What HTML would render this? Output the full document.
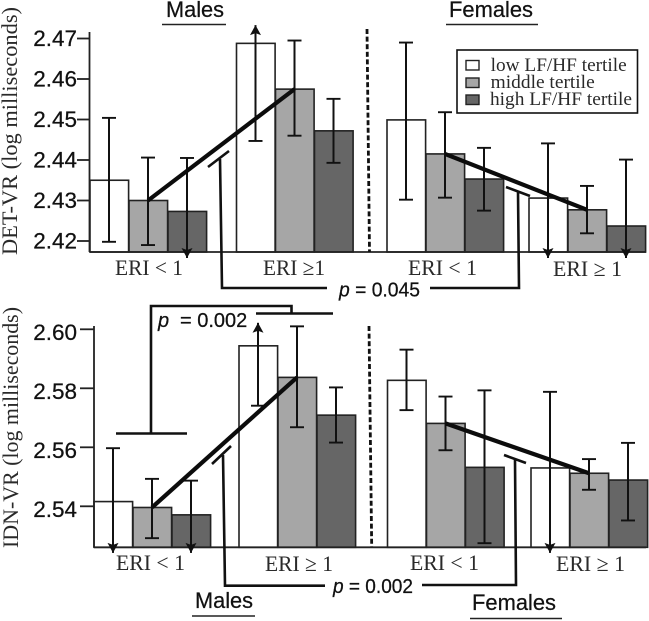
<!DOCTYPE html>
<html lang="en">
<head>
<meta charset="utf-8">
<title>DET-VR and IDN-VR by ERI and LF/HF tertile</title>
<style>
html,body{margin:0;padding:0;background:#fff;width:649px;height:621px;overflow:hidden}
svg{display:block}
.sans{font-family:"Liberation Sans",sans-serif;fill:#111;stroke:#111;stroke-width:0.25}
.serif{font-family:"Liberation Serif",serif;fill:#2a2a2a}
</style>
</head>
<body>
<svg id="chart" xmlns="http://www.w3.org/2000/svg" width="649" height="621" viewBox="0 0 649 621">
  <rect x="0" y="0" width="649" height="621" fill="#fff"/>
  <g id="top-panel"></g>
  <g id="bottom-panel"></g>

  <text class="sans" x="166" y="17" font-size="22" textLength="58" lengthAdjust="spacingAndGlyphs">Males</text>
  <line x1="162" y1="24.5" x2="226" y2="24.5" stroke="#222" stroke-width="1.6"/>
  <text class="sans" x="449" y="17" font-size="22" textLength="84" lengthAdjust="spacingAndGlyphs">Females</text>
  <line x1="446" y1="24.5" x2="538" y2="24.5" stroke="#222" stroke-width="1.6"/>

  <text class="serif" font-size="22" transform="translate(17,255) rotate(-90)" textLength="248" lengthAdjust="spacingAndGlyphs">DET-VR (log milliseconds)</text>
  <text class="serif" font-size="22" transform="translate(18,548) rotate(-90)" textLength="241" lengthAdjust="spacingAndGlyphs">IDN-VR (log milliseconds)</text>

  <line x1="367" y1="29" x2="369.5" y2="252" stroke="#111" stroke-width="2.8" stroke-dasharray="5 2.6"/>
  <line x1="369" y1="326" x2="371.7" y2="547" stroke="#111" stroke-width="2.8" stroke-dasharray="5 2.6"/>

  <g>
    <text class="serif" font-size="22" x="115" y="275" textLength="68" lengthAdjust="spacingAndGlyphs">ERI &lt; 1</text>
    <text class="serif" font-size="22" x="263" y="275" textLength="62" lengthAdjust="spacingAndGlyphs">ERI ≥1</text>
    <text class="serif" font-size="22" x="408" y="275" textLength="69" lengthAdjust="spacingAndGlyphs">ERI &lt; 1</text>
    <text class="serif" font-size="22" x="553" y="276" textLength="69" lengthAdjust="spacingAndGlyphs">ERI ≥ 1</text>
  </g>
  <g>
    <text class="serif" font-size="22" x="116" y="570" textLength="69" lengthAdjust="spacingAndGlyphs">ERI &lt; 1</text>
    <text class="serif" font-size="22" x="265" y="571" textLength="68" lengthAdjust="spacingAndGlyphs">ERI ≥ 1</text>
    <text class="serif" font-size="22" x="410" y="570" textLength="69" lengthAdjust="spacingAndGlyphs">ERI &lt; 1</text>
    <text class="serif" font-size="22" x="556" y="571" textLength="69" lengthAdjust="spacingAndGlyphs">ERI ≥ 1</text>
  </g>

  <!-- top bracket -->
  <path d="M208 167 L229 151 M220 159 L222 288 L327 288" fill="none" stroke="#111" stroke-width="2.6"/>
  <path d="M430 288 L519 288 L518 192 M506 187 L530 196" fill="none" stroke="#111" stroke-width="2.6"/>
  <text class="sans" x="339" y="296.5" font-size="20" textLength="81" lengthAdjust="spacingAndGlyphs"><tspan font-style="italic">p</tspan> = 0.045</text>

  <!-- bottom brackets -->
  <path d="M116 433.5 L187 433.5 M151 433.5 L151 306 L291.5 306 L291.5 313.5 M256 313.5 L333 313.5" fill="none" stroke="#111" stroke-width="2.6"/>
  <text class="sans" font-size="20" y="327"><tspan x="158" font-style="italic">p</tspan><tspan x="180">= 0.002</tspan></text>
  <path d="M212 464 L231 446 M223 455 L225 585.7 L325 585.7" fill="none" stroke="#111" stroke-width="2.6"/>
  <path d="M422 585 L516 585 L515 460 M504 455 L526 463" fill="none" stroke="#111" stroke-width="2.6"/>
  <text class="sans" x="333" y="593" font-size="20" textLength="80" lengthAdjust="spacingAndGlyphs"><tspan font-style="italic">p</tspan> = 0.002</text>

  <text class="sans" x="195" y="608" font-size="22" textLength="58" lengthAdjust="spacingAndGlyphs">Males</text>
  <line x1="192" y1="616" x2="255" y2="616" stroke="#222" stroke-width="1.6"/>
  <text class="sans" x="472" y="610" font-size="22" textLength="84" lengthAdjust="spacingAndGlyphs">Females</text>
  <line x1="470" y1="618.5" x2="562" y2="618.5" stroke="#222" stroke-width="1.6"/>

  <!-- legend -->
  <g>
    <rect x="457" y="50" width="180.5" height="63" fill="#fff" stroke="#111" stroke-width="1.6"/>
    <g>
      <rect x="466" y="60.5" width="13" height="9.5" fill="#fff" stroke="#222" stroke-width="1.4"/>
      <text class="serif" x="490.7" y="71" font-size="19" textLength="136" lengthAdjust="spacingAndGlyphs">low LF/HF tertile</text>
    </g>
    <g>
      <rect x="466" y="78" width="13" height="9.5" fill="#a6a6a6" stroke="#222" stroke-width="1.4"/>
      <text class="serif" x="490.7" y="88" font-size="19" textLength="104" lengthAdjust="spacingAndGlyphs">middle tertile</text>
    </g>
    <g>
      <rect x="466" y="95" width="13" height="9.5" fill="#666" stroke="#222" stroke-width="1.4"/>
      <text class="serif" x="490" y="105" font-size="19" textLength="142" lengthAdjust="spacingAndGlyphs">high LF/HF tertile</text>
    </g>
  </g>
</svg>

<script>
// Groups: Males ERI<1, Males ERI>=1, Females ERI<1, Females ERI>=1. Series: low, middle, high tertile.
const groups = ['males-eri-below-1', 'males-eri-at-least-1', 'females-eri-below-1', 'females-eri-at-least-1'];
const tertiles = ['low', 'middle', 'high'];

const topTicks = ['2.42', '2.43', '2.44', '2.45', '2.46', '2.47'];
const topMeans = [[2.4350, 2.4300, 2.4273], [2.4688, 2.4575, 2.4472], [2.4499, 2.4415, 2.4353], [2.4306, 2.4277, 2.4237]];
const topHighs = [[2.4504, 2.4406, 2.4405], [2.4733, 2.4695, 2.4551], [2.4690, 2.4518, 2.4430], [2.4441, 2.4336, 2.4401]];
const topLows = [[2.4198, 2.4190, 2.4158], [2.4447, 2.4460, 2.4393], [2.4302, 2.4307, 2.4275], [2.4158, 2.4219, 2.4158]];
const topArrows = [['', '', 'down'], ['up', '', ''], ['', '', ''], ['down', '', 'down']];

const bottomTicks = ['2.54', '2.56', '2.58', '2.60'];
const bottomMeans = [[2.5416, 2.5396, 2.5371], [2.5944, 2.5837, 2.5709], [2.5827, 2.5681, 2.5532], [2.5530, 2.5512, 2.5489]];
const bottomHighs = [[2.5597, 2.5493, 2.5487], [2.6022, 2.6010, 2.5803], [2.5931, 2.5772, 2.5793], [2.5788, 2.5560, 2.5615]];
const bottomLows = [[2.5242, 2.5292, 2.5242], [2.5741, 2.5668, 2.5616], [2.5726, 2.5590, 2.5275], [2.5242, 2.5456, 2.5352]];
const bottomArrows = [['down', '', 'down'], ['up', '', ''], ['', '', ''], ['down', '', '']];

const SVGNS = 'http://www.w3.org/2000/svg';
const fills = { low: '#ffffff', middle: '#a6a6a6', high: '#666666' };

function make(parent, tag, attrs) {
  const el = document.createElementNS(SVGNS, tag);
  for (const k in attrs) el.setAttribute(k, attrs[k]);
  parent.appendChild(el);
  return el;
}

function drawPanel(parent, cfg) {
  const y = v => cfg.refY - (v - cfg.refValue) * cfg.pxPerUnit;
  const x = (g, s) => cfg.groupLeft(g) + s * cfg.barStep;

  // bars
  cfg.means.forEach((row, g) => row.forEach((v, s) => {
    const bar = make(parent, 'rect', {
      x: x(g, s), y: y(v), width: cfg.barStep - 0.4, height: cfg.baseY - y(v),
      fill: fills[tertiles[s]], stroke: '#222', 'stroke-width': 1.6
    });
    
    
  }));

  // axes
  const baseline = make(parent, 'line', { x1: cfg.axisX, y1: cfg.baseY, x2: 646, y2: cfg.baseY, stroke: '#222', 'stroke-width': 1.8 });
  
  
  const yAxis = make(parent, 'line', { x1: cfg.axisX, y1: cfg.axisTop, x2: cfg.axisX, y2: cfg.baseY, stroke: '#222', 'stroke-width': 1.8 });
  
  

  cfg.ticks.forEach(label => {
    const ty = y(parseFloat(label));
    const tick = make(parent, 'line', { x1: cfg.tickLeft, y1: ty, x2: cfg.axisX, y2: ty, stroke: '#222', 'stroke-width': 1.8 });
    
    
    const text = make(parent, 'text', { x: 77, y: ty + cfg.labelDy, 'text-anchor': 'end', 'font-size': 22.5, class: 'sans' });
    
    
    text.textContent = label;
  });

  // error bars
  cfg.means.forEach((row, g) => row.forEach((v, s) => {
    const cx = x(g, s) + cfg.barStep / 2 - 0.5;
    const hi = y(cfg.highs[g][s]);
    const lo = y(cfg.lows[g][s]);
    const arrow = cfg.arrows[g][s];
    const stem = make(parent, 'line', { x1: cx, y1: hi, x2: cx, y2: lo, stroke: '#111', 'stroke-width': 2 });
    
    
    if (arrow !== 'up') {
      const capTop = make(parent, 'line', { x1: cx - 7, y1: hi, x2: cx + 7, y2: hi, stroke: '#111', 'stroke-width': 1.9 });
      
      
    } else {
      const head = make(parent, 'polygon', { points: [cx, hi, cx - 5.5, hi + 10, cx, hi + 8, cx + 5.5, hi + 10].join(' '), fill: '#111' });
      
      
    }
    if (arrow !== 'down') {
      const capBottom = make(parent, 'line', { x1: cx - 7, y1: lo, x2: cx + 7, y2: lo, stroke: '#111', 'stroke-width': 1.9 });
      
      
    } else {
      const head = make(parent, 'polygon', { points: [cx, lo, cx - 5.5, lo - 10, cx, lo - 8, cx + 5.5, lo - 10].join(' '), fill: '#111' });
      
      
    }
  }));

  // trend lines joining the middle-tertile bars across ERI groups
  [[0, 1], [2, 3]].forEach(pair => {
    const from = pair[0], to = pair[1];
    const trend = make(parent, 'line', {
      x1: x(from, 1) + cfg.barStep / 2 - 0.5, y1: y(cfg.means[from][1]),
      x2: x(to, 1) + cfg.barStep / 2 - 0.5, y2: y(cfg.means[to][1]),
      stroke: '#0c0c0c', 'stroke-width': 4.2
    });
    
    
  });
}

function topGroupLeft(g) { return [90, 236.5, 387, 529][g]; }
function bottomGroupLeft(g) { return [94, 239, 387.5, 531][g]; }

drawPanel(document.getElementById('top-panel'), {
  ticks: topTicks, means: topMeans, highs: topHighs, lows: topLows, arrows: topArrows,
  refValue: 2.42, refY: 241, pxPerUnit: 4050, baseY: 252, axisX: 89.5, axisTop: 32,
  tickLeft: 77, labelDy: 7.5, barStep: 39, groupLeft: topGroupLeft
});
drawPanel(document.getElementById('bottom-panel'), {
  ticks: bottomTicks, means: bottomMeans, highs: bottomHighs, lows: bottomLows, arrows: bottomArrows,
  refValue: 2.54, refY: 506.3, pxPerUnit: 2950, baseY: 547.3, axisX: 94, axisTop: 326,
  tickLeft: 80, labelDy: 10.5, barStep: 39, groupLeft: bottomGroupLeft
});
</script>
</body>
</html>
